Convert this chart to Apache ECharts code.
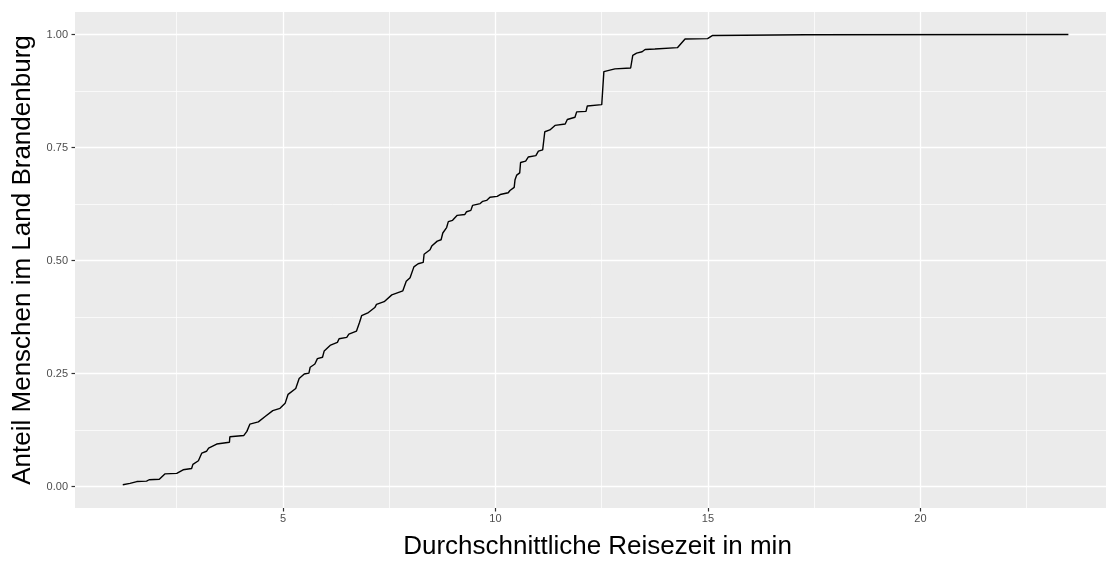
<!DOCTYPE html>
<html>
<head>
<meta charset="utf-8">
<script src="https://cdn.jsdelivr.net/npm/echarts@6/dist/echarts.min.js"></script>
<style>
html,body{margin:0;padding:0;background:#fff;}
#c{width:1106px;height:561px;}
</style>
</head>
<body>
<div id="c"></div>
<script>
// Average travel time (min) and cumulative share of people
const travelTime = [1.23,1.40,1.56,1.79,1.85,2.09,2.22,2.50,2.65,2.85,2.88,3.01,3.09,3.20,3.25,3.44,3.74,3.75,4.08,4.15,4.22,4.42,4.58,4.76,4.93,5.05,5.12,5.30,5.38,5.50,5.61,5.64,5.75,5.81,5.93,5.97,6.12,6.28,6.32,6.50,6.55,6.73,6.80,6.85,7.01,7.16,7.20,7.38,7.56,7.82,7.90,7.99,8.08,8.18,8.30,8.32,8.46,8.50,8.63,8.72,8.76,8.85,8.89,8.99,9.10,9.28,9.32,9.42,9.46,9.64,9.70,9.79,9.87,10.04,10.11,10.30,10.34,10.44,10.46,10.50,10.57,10.59,10.71,10.77,10.95,11.01,11.11,11.16,11.28,11.40,11.64,11.69,11.87,11.91,12.13,12.16,12.50,12.55,12.81,13.18,13.23,13.32,13.45,13.52,13.75,14.28,14.46,14.99,15.11,17.30,23.48];
const shareOfPeople = [0.004,0.007,0.011,0.012,0.015,0.016,0.028,0.029,0.037,0.040,0.049,0.057,0.074,0.078,0.085,0.094,0.098,0.110,0.113,0.122,0.138,0.143,0.155,0.168,0.173,0.184,0.204,0.217,0.239,0.249,0.251,0.264,0.271,0.283,0.286,0.300,0.313,0.319,0.327,0.330,0.337,0.344,0.363,0.378,0.385,0.396,0.403,0.409,0.424,0.433,0.454,0.462,0.486,0.493,0.496,0.514,0.524,0.532,0.543,0.546,0.561,0.573,0.586,0.589,0.600,0.602,0.608,0.611,0.622,0.626,0.631,0.633,0.640,0.642,0.646,0.650,0.655,0.662,0.679,0.689,0.694,0.717,0.720,0.729,0.732,0.742,0.745,0.785,0.789,0.799,0.802,0.812,0.817,0.829,0.830,0.842,0.845,0.918,0.924,0.926,0.954,0.959,0.962,0.967,0.968,0.971,0.990,0.991,0.998,0.9995,1.000];

const xMajorTicks = [5, 10, 15, 20];
const xMinorTicks = [2.5, 7.5, 12.5, 17.5, 22.5];
const yMajorTicks = [0, 0.25, 0.5, 0.75, 1];
const yMinorTicks = [0.125, 0.375, 0.625, 0.875];

const xTitle = 'Durchschnittliche Reisezeit in min';
const yTitle = 'Anteil Menschen im Land Brandenburg';

const FONT = '"Liberation Sans", Arial, Helvetica, sans-serif';
const X_MIN = 0.106, X_MAX = 24.365, Y_MIN = -0.0475, Y_MAX = 1.0499;

const chart = echarts.init(document.getElementById('c'), null, {renderer: 'canvas'});
const lineData = travelTime.map((x, i) => [x, shareOfPeople[i]]);

const minorAxisCommon = {
  type: 'value',
  axisLine: {show: false, onZero: false},
  axisLabel: {show: false},
  splitLine: {show: true, lineStyle: {color: '#ffffff', width: 0.7}}
};

chart.setOption({
  animation: false,
  textStyle: {fontFamily: FONT},
  grid: {left: 75, right: 0, top: 12, bottom: 53, show: true, backgroundColor: '#EBEBEB', borderWidth: 0,
    containLabel: false, outerBoundsMode: 'none'},
  xAxis: [
    {
      type: 'value', min: X_MIN, max: X_MAX, position: 'bottom',
      axisLine: {show: false, onZero: false},
      axisTick: {show: true, length: 3.5, lineStyle: {color: '#333333', width: 1.2}, customValues: xMajorTicks},
      axisLabel: {show: true, customValues: xMajorTicks, color: '#4D4D4D', fontSize: 11, margin: 5, fontFamily: FONT},
      splitLine: {show: true, lineStyle: {color: '#ffffff', width: 1.3}},
      name: xTitle, nameLocation: 'middle', nameGap: 26,
      nameTextStyle: {fontSize: 26, color: '#000000', fontFamily: FONT, padding: [0, 0, 0, 14]}
    },
    Object.assign({}, minorAxisCommon, {
      min: X_MIN, max: X_MAX, position: 'bottom',
      axisTick: {show: false, customValues: xMinorTicks}
    })
  ],
  yAxis: [
    {
      type: 'value', min: Y_MIN, max: Y_MAX, position: 'left',
      axisLine: {show: false, onZero: false},
      axisTick: {show: true, length: 3.5, lineStyle: {color: '#333333', width: 1.2}, customValues: yMajorTicks},
      axisLabel: {show: true, customValues: yMajorTicks, color: '#4D4D4D', fontSize: 11, margin: 7, fontFamily: FONT,
        formatter: v => Number(v).toFixed(2)},
      splitLine: {show: true, lineStyle: {color: '#ffffff', width: 1.3}},
      name: yTitle, nameLocation: 'middle', nameGap: 21, nameRotate: 90,
      nameTextStyle: {fontSize: 26, color: '#000000', fontFamily: FONT}
    },
    Object.assign({}, minorAxisCommon, {
      min: Y_MIN, max: Y_MAX, position: 'left',
      axisTick: {show: false, customValues: yMinorTicks}
    })
  ],
  series: [{
    type: 'line',
    xAxisIndex: 0, yAxisIndex: 0,
    data: lineData,
    showSymbol: false,
    symbol: 'none',
    smooth: false,
    lineStyle: {color: '#000000', width: 1.4},
    z: 5
  }]
});
</script>
</body>
</html>
